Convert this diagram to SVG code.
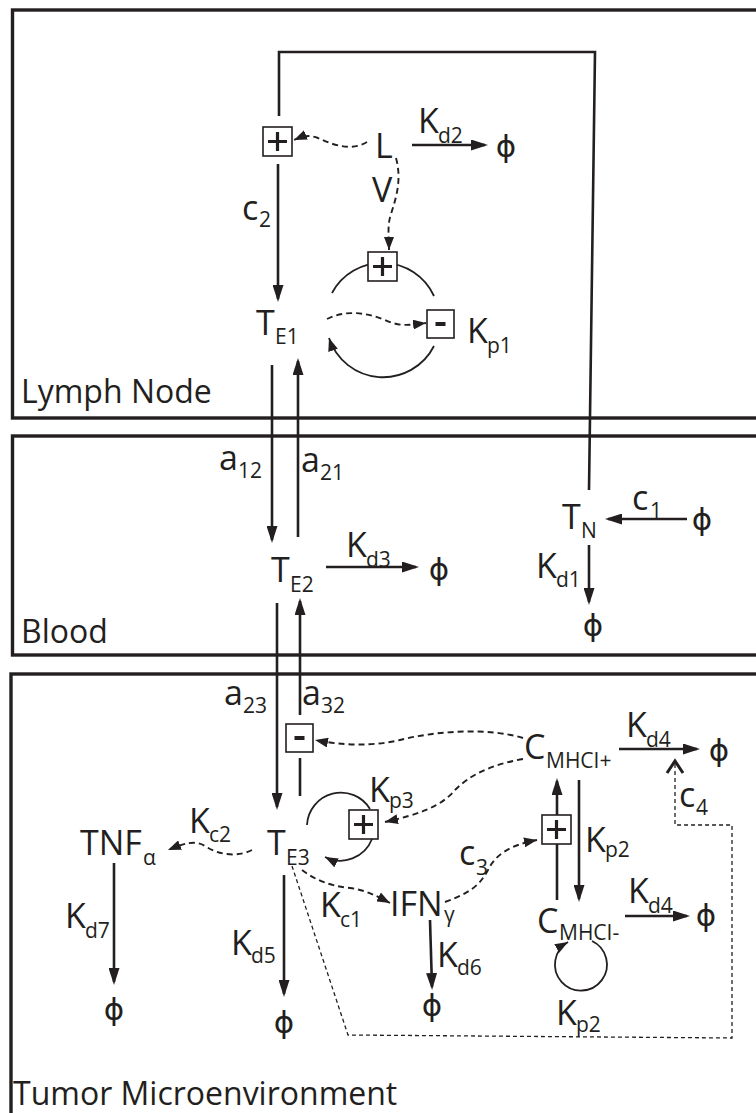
<svg xmlns="http://www.w3.org/2000/svg" width="756" height="1113" viewBox="0 0 756 1113">
<style>
text{font-family:"Open Sans","DejaVu Sans",sans-serif;fill:#231f20}
.m{font-size:34px}
.s{font-size:21px}
.r{font-size:32px}
.phi{font-family:"DejaVu Sans",sans-serif;font-size:31px;text-anchor:middle}
.reg{fill:none;stroke:#231f20;stroke-width:3.4}
.ln{fill:none;stroke:#231f20;stroke-width:2.6}
.ar{fill:none;stroke:#231f20;stroke-width:2.6;marker-end:url(#ah)}
.ds{fill:none;stroke:#231f20;stroke-width:1.9;stroke-dasharray:6 4;marker-end:url(#dh)}
.th{fill:none;stroke:#231f20;stroke-width:1.3;stroke-dasharray:4 3}
.loop{fill:none;stroke:#231f20;stroke-width:1.8}
.bx{fill:#fff;stroke:#231f20;stroke-width:1.6}
.sg{stroke:#231f20;stroke-width:3.2;fill:none}
</style>
<defs>
<marker id="ah" markerUnits="userSpaceOnUse" viewBox="0 0 17 11" markerWidth="17" markerHeight="11" refX="14" refY="5.5" orient="auto"><path d="M0,0 L17,5.5 L0,11 z" fill="#231f20"/></marker>
<marker id="dh" markerUnits="userSpaceOnUse" viewBox="0 0 13 10" markerWidth="13" markerHeight="10" refX="13" refY="5" orient="auto"><path d="M0,0 L13,5 L0,10 z" fill="#231f20"/></marker>
<g id="plus"><rect class="bx" x="0" y="0" width="29" height="29"/><path class="sg" d="M5,14.5 H24 M14.5,5 V24"/></g>
<g id="minus"><rect class="bx" x="0" y="0" width="27" height="28"/><path d="M8.5,14 H18.5" stroke="#231f20" stroke-width="4"/></g>
</defs>

<g id="regions">
<rect class="reg" x="12.5" y="10" width="760" height="408"/>
<rect class="reg" x="12.5" y="436" width="760" height="219"/>
<rect class="reg" x="11" y="674" width="760" height="460"/>
<text class="r" x="21" y="403">Lymph Node</text>
<text class="r" x="21" y="643">Blood</text>
<text class="r" x="13" y="1105">Tumor Microenvironment</text>
</g>

<g id="connectors">
<path class="ln" d="M279,116 V52 H595 L589,490"/>
<path class="ar" d="M278,164 V299"/>
<path class="ar" d="M412,145 H485"/>
<path class="ar" d="M272,365 V540"/>
<path class="ar" d="M298,537 V361"/>
<path class="ar" d="M326,567 H416"/>
<path class="ar" d="M277,603 V807"/>
<path class="ar" d="M300,715 V601"/>
<path class="ln" d="M300,758 V796"/>
<path class="ar" d="M589,545 V602"/>
<path class="ar" d="M687,519 H608"/>
<path class="ar" d="M619,749 H697"/>
<path class="ln" d="M557,900 V843"/>
<path class="ar" d="M557,815 V781"/>
<path class="ar" d="M579,780 V899"/>
<path class="ar" d="M625,916 H687"/>
<path class="ar" d="M114,863 V982"/>
<path class="ar" d="M284,875 V994"/>
<path class="ar" d="M430,920 L432,987"/>
<path class="ds" d="M367,142 C352,151 335,146 318,138 C308,134 301,137 294,140"/>
<path class="ds" d="M396,158 C402,180 396,198 391,214 C387,226 389,236 389,250"/>
<path class="ds" d="M327,319 C345,310 365,312 385,320 C400,327 410,325 426,323"/>
<path class="ds" d="M523,738 C490,728 440,730 400,740 C370,747 340,745 315,740"/>
<path class="ds" d="M523,759 C490,765 470,775 455,790 C440,808 415,815 385,822"/>
<path class="ds" d="M252,850 C240,856 222,857 205,846 C195,840 185,843 168,850"/>
<path class="ds" d="M302,870 C315,880 330,886 350,888 C365,890 375,895 390,903"/>
<path class="ds" d="M445,902 C470,893 480,885 488,870 C495,855 510,845 537,840"/>
<path class="th" d="M292,866 L348,1035 L732,1038 V825 H675 V763"/>
<path d="M667,773 L675,761 L683,773" fill="none" stroke="#231f20" stroke-width="3"/>
<path class="loop" d="M332,293 A57,57 0 0,1 434,296"/>
<path class="loop" d="M434,346 A57,57 0 0,1 329,338" marker-end="url(#dh)"/>
<path class="loop" d="M307,825 A34,34 0 0,1 370,809"/>
<path class="loop" d="M372,839 A34,34 0 0,1 325,857" marker-end="url(#dh)"/>
<path class="loop" d="M592,941 A26,26 0 1,1 568,942" marker-end="url(#dh)"/>
</g>

<g id="mod-plus-c2"><use href="#plus" x="263" y="127"/></g>
<g id="mod-plus-kp1"><use href="#plus" x="368" y="252"/></g>
<g id="mod-minus-kp1"><use href="#minus" x="427" y="310"/></g>
<g id="mod-minus-a32"><use href="#minus" x="286" y="724"/></g>
<g id="mod-plus-kp3"><use href="#plus" x="349" y="810"/></g>
<g id="mod-plus-c3"><use href="#plus" x="542" y="815"/></g>

<g id="node-L"><text class="m" x="375" y="158">L</text></g>
<g id="node-TE1"><text class="m" x="256" y="335">T</text><text class="s" x="275" y="344">E1</text></g>
<g id="node-TE2"><text class="m" x="271" y="582">T</text><text class="s" x="290" y="592">E2</text></g>
<g id="node-TN"><text class="m" x="562" y="529">T</text><text class="s" x="581" y="538">N</text></g>
<g id="node-TE3"><text class="m" x="267" y="855">T</text><text class="s" x="286" y="865">E3</text></g>
<g id="node-TNF"><text class="m" x="80" y="855">TNF</text><text class="s" x="143" y="865">α</text></g>
<g id="node-IFN"><text class="m" x="390" y="916">IFN</text><text class="s" x="444" y="922">γ</text></g>
<g id="node-Cplus"><text class="m" x="524" y="759">C</text><text class="s" x="546" y="768">MHCI+</text></g>
<g id="node-Cminus"><text class="m" x="537" y="933">C</text><text class="s" x="559" y="940">MHCI-</text></g>

<g id="sinks">
<text class="phi" x="506" y="157">ϕ</text>
<text class="phi" x="439" y="580">ϕ</text>
<text class="phi" x="702" y="530">ϕ</text>
<text class="phi" x="593" y="636">ϕ</text>
<text class="phi" x="719" y="761">ϕ</text>
<text class="phi" x="706" y="926">ϕ</text>
<text class="phi" x="114" y="1020">ϕ</text>
<text class="phi" x="284" y="1033">ϕ</text>
<text class="phi" x="432" y="1016">ϕ</text>
</g>

<g id="labels">
<text class="m" x="372" y="202">V</text>
<text class="m" x="418" y="133">K</text><text class="s" x="438" y="143">d2</text>
<text class="m" x="242" y="220">c</text><text class="s" x="259" y="227">2</text>
<text class="m" x="467" y="343">K</text><text class="s" x="487" y="353">p1</text>
<text class="m" x="219" y="470">a</text><text class="s" x="238" y="478">12</text>
<text class="m" x="301" y="472">a</text><text class="s" x="320" y="480">21</text>
<text class="m" x="346" y="557">K</text><text class="s" x="366" y="567">d3</text>
<text class="m" x="632" y="510">c</text><text class="s" x="650" y="518">1</text>
<text class="m" x="536" y="578">K</text><text class="s" x="556" y="587">d1</text>
<text class="m" x="224" y="705">a</text><text class="s" x="243" y="713">23</text>
<text class="m" x="302" y="705">a</text><text class="s" x="321" y="713">32</text>
<text class="m" x="626" y="737">K</text><text class="s" x="646" y="747">d4</text>
<text class="m" x="369" y="802">K</text><text class="s" x="389" y="808">p3</text>
<text class="m" x="679" y="807">c</text><text class="s" x="696" y="815">4</text>
<text class="m" x="585" y="852">K</text><text class="s" x="605" y="857">p2</text>
<text class="m" x="189" y="833">K</text><text class="s" x="209" y="842">c2</text>
<text class="m" x="459" y="865">c</text><text class="s" x="476" y="875">3</text>
<text class="m" x="320" y="917">K</text><text class="s" x="340" y="927">c1</text>
<text class="m" x="628" y="903">K</text><text class="s" x="648" y="913">d4</text>
<text class="m" x="65" y="928">K</text><text class="s" x="85" y="938">d7</text>
<text class="m" x="231" y="955">K</text><text class="s" x="251" y="963">d5</text>
<text class="m" x="437" y="967">K</text><text class="s" x="457" y="975">d6</text>
<text class="m" x="556" y="1025">K</text><text class="s" x="576" y="1032">p2</text>
</g>
</svg>
